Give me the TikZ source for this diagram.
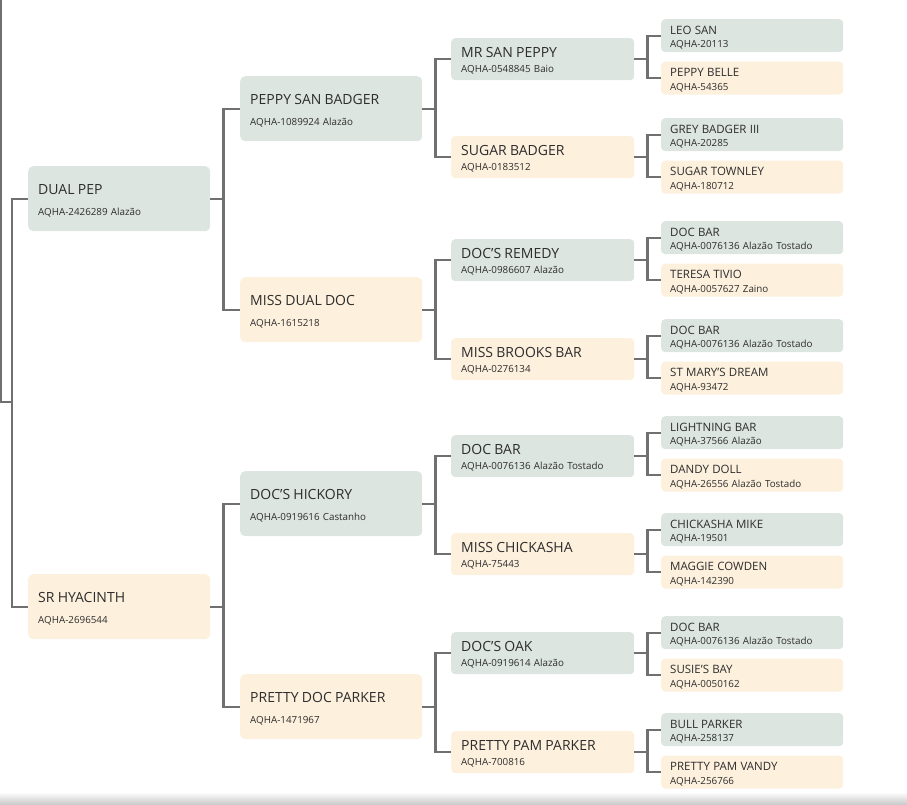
\documentclass[tikz,border=0pt]{standalone}
\usepackage{fontspec}
\setmainfont{Open Sans}
\usetikzlibrary{positioning}
\definecolor{sirefill}{RGB}{220,229,224}
\definecolor{damfill}{RGB}{253,240,221}
\definecolor{linkgray}{RGB}{112,112,112}
\definecolor{txtgray}{RGB}{45,45,45}
\newcommand{\hbig}[1]{{\fontsize{14}{14}\selectfont\rule{0pt}{14pt}#1}}
\newcommand{\hsmall}[1]{{\fontsize{11.5}{11.5}\selectfont\rule{0pt}{12pt}#1}}

\begin{document}
\begin{tikzpicture}[x=1pt,y=-1pt,
  box/.style={anchor=north west,inner ysep=0pt,align=left,text=txtgray},
  sire/.style={box,fill=sirefill},
  dam/.style={box,fill=damfill},
  gone/.style={rounded corners=5pt,inner xsep=10pt,text width=162pt,minimum height=65pt,font=\fontsize{9.8}{21}\selectfont},
  gtwo/.style={rounded corners=4pt,inner xsep=10pt,text width=163pt,minimum height=42pt,font=\fontsize{9.8}{15}\selectfont},
  gthree/.style={rounded corners=4pt,inner xsep=9pt,text width=164pt,minimum height=33pt,font=\fontsize{9.8}{13.5}\selectfont},
  link/.style={draw=linkgray,line width=2.3pt}]
\useasboundingbox (0,0) rectangle (907,805);
\shade[top color=white,bottom color=black!22] (0,792) rectangle (907,805); % --- window edge
% --- parents and grandparents
\node[sire,gone] (dp) at (28,166) {\hbig{DUAL PEP}\\AQHA-2426289 Alazão};
\node[dam,gone] (sh) at (28,574) {\hbig{SR HYACINTH}\\AQHA-2696544};
\node[sire,gone] (psb) at (240,76) {\hbig{PEPPY SAN BADGER}\\AQHA-1089924 Alazão};
\node[dam,gone] (mdd) at (240,277) {\hbig{MISS DUAL DOC}\\AQHA-1615218};
\node[sire,gone] (dh) at (240,471) {\hbig{DOC'S HICKORY}\\AQHA-0919616 Castanho};
\node[dam,gone] (pdp) at (240,674) {\hbig{PRETTY DOC PARKER}\\AQHA-1471967};
% --- great grandparents
\node[sire,gtwo] (msp) at (451,38) {\hbig{MR SAN PEPPY}\\AQHA-0548845 Baio};
\node[dam,gtwo] (sb) at (451,136) {\hbig{SUGAR BADGER}\\AQHA-0183512};
\node[sire,gtwo] (dr) at (451,239) {\hbig{DOC'S REMEDY}\\AQHA-0986607 Alazão};
\node[dam,gtwo] (mbb) at (451,338) {\hbig{MISS BROOKS BAR}\\AQHA-0276134};
\node[sire,gtwo] (db) at (451,435) {\hbig{DOC BAR}\\AQHA-0076136 Alazão Tostado};
\node[dam,gtwo] (mc) at (451,533) {\hbig{MISS CHICKASHA}\\AQHA-75443};
\node[sire,gtwo] (do) at (451,632) {\hbig{DOC'S OAK}\\AQHA-0919614 Alazão};
\node[dam,gtwo] (ppp) at (451,731) {\hbig{PRETTY PAM PARKER}\\AQHA-700816};
% --- last generation, dams 9pt below sires
\node[sire,gthree] (ls) at (661,19) {\hsmall{LEO SAN}\\AQHA-20113};
\node[dam,gthree,below=9pt of ls] (pb) {\hsmall{PEPPY BELLE}\\AQHA-54365};
\node[sire,gthree] (gb) at (661,118) {\hsmall{GREY BADGER III}\\AQHA-20285};
\node[dam,gthree,below=9pt of gb] (st) {\hsmall{SUGAR TOWNLEY}\\AQHA-180712};
\node[sire,gthree] (dba) at (661,221) {\hsmall{DOC BAR}\\AQHA-0076136 Alazão Tostado};
\node[dam,gthree,below=9pt of dba] (tt) {\hsmall{TERESA TIVIO}\\AQHA-0057627 Zaino};
\node[sire,gthree] (dbb) at (661,319) {\hsmall{DOC BAR}\\AQHA-0076136 Alazão Tostado};
\node[dam,gthree,below=9pt of dbb] (smd) {\hsmall{ST MARY'S DREAM}\\AQHA-93472};
\node[sire,gthree] (lb) at (661,416) {\hsmall{LIGHTNING BAR}\\AQHA-37566 Alazão};
\node[dam,gthree,below=9pt of lb] (dd) {\hsmall{DANDY DOLL}\\AQHA-26556 Alazão Tostado};
\node[sire,gthree] (cm) at (661,513) {\hsmall{CHICKASHA MIKE}\\AQHA-19501};
\node[dam,gthree,below=9pt of cm] (mcw) {\hsmall{MAGGIE COWDEN}\\AQHA-142390};
\node[sire,gthree] (dbc) at (661,616) {\hsmall{DOC BAR}\\AQHA-0076136 Alazão Tostado};
\node[dam,gthree,below=9pt of dbc] (sub) {\hsmall{SUSIE'S BAY}\\AQHA-0050162};
\node[sire,gthree] (bp) at (661,713) {\hsmall{BULL PARKER}\\AQHA-258137};
\node[dam,gthree,below=9pt of bp] (ppv) {\hsmall{PRETTY PAM VANDY}\\AQHA-256766};
% --- links between generations
\coordinate (top) at (1,0);
\coordinate (jn) at (13,402);
\draw[link,line width=2pt] (top) |- (jn); % link coming from above
\draw[link] (dp.west) -- ++(-16,0) |- (sh.west);
\foreach \p/\s/\d in {dp/psb/mdd,sh/dh/pdp,psb/msp/sb,mdd/dr/mbb,dh/db/mc,pdp/do/ppp,
  msp/ls/pb,sb/gb/st,dr/dba/tt,mbb/dbb/smd,db/lb/dd,mc/cm/mcw,do/dbc/sub,ppp/bp/ppv}{
\draw[link] (\p.east) -- ++(13,0) |- (\s.west) (\p.east) -- ++(13,0) |- (\d.west);
}
\end{tikzpicture}
\end{document}
